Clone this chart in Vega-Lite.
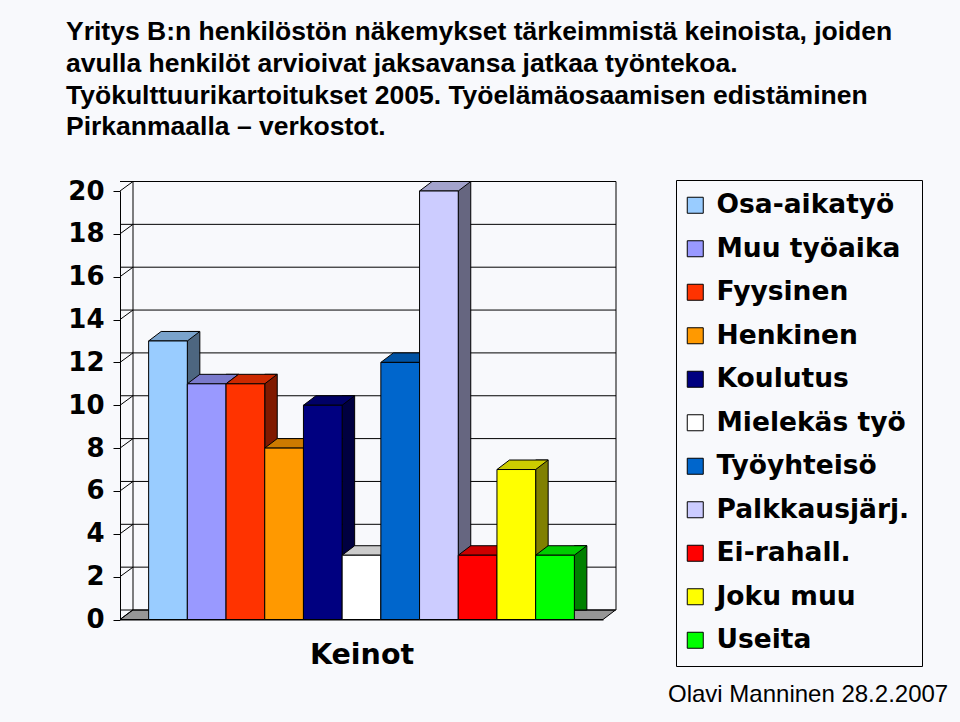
{
  "$schema": "https://vega.github.io/schema/vega-lite/v6.json",
  "width": 483,
  "height": 428.5,
  "autosize": {"type": "none"},
  "padding": {"left": 120, "top": 191, "right": 357, "bottom": 102.5},
  "background": "#f8f9fc",
  "config": {
    "view": {"stroke": null},
    "axisY": {"domainColor": "black", "domainWidth": 1, "tickColor": "black", "tickSize": 7, "tickWidth": 1, "labelFont": "DejaVu Sans", "labelFontSize": 26, "labelFontWeight": "bold", "labelColor": "black", "labelPadding": 9, "grid": false},
    "axisX": {"domainColor": "black", "domainWidth": 1, "ticks": false, "labels": false, "grid": false, "titleFont": "DejaVu Sans", "titleFontSize": 28.5, "titleFontWeight": "bold", "titleColor": "black", "titlePadding": 21}
  },
  "title": {
    "text": ["Yritys B:n henkilöstön näkemykset tärkeimmistä keinoista, joiden", "avulla henkilöt arvioivat jaksavansa jatkaa työntekoa.", "Työkulttuurikartoitukset 2005. Työelämäosaamisen edistäminen", "Pirkanmaalla – verkostot."],
    "anchor": "start",
    "frame": "group",
    "dx": -54,
    "dy": -33,
    "font": "Liberation Sans",
    "fontSize": 26.5,
    "fontWeight": "bold",
    "color": "black",
    "lineHeight": 31.7
  },
  "datasets": {
    "bars": [
      {"keino": "Osa-aikatyö", "value": 13},
      {"keino": "Muu työaika", "value": 11},
      {"keino": "Fyysinen", "value": 11},
      {"keino": "Henkinen", "value": 8},
      {"keino": "Koulutus", "value": 10},
      {"keino": "Mielekäs työ", "value": 3},
      {"keino": "Työyhteisö", "value": 12},
      {"keino": "Palkkausjärj.", "value": 20},
      {"keino": "Ei-rahall.", "value": 3},
      {"keino": "Joku muu", "value": 7},
      {"keino": "Useita", "value": 3}
    ],
    "ticks": [
      {"tick": 0}, {"tick": 2}, {"tick": 4}, {"tick": 6}, {"tick": 8}, {"tick": 10},
      {"tick": 12}, {"tick": 14}, {"tick": 16}, {"tick": 18}, {"tick": 20}
    ],
    "footer": [{"t": "Olavi Manninen 28.2.2007"}]
  },
  "layer": [
    {
      "data": {"name": "bars"},
      "transform": [{"filter": "datum.keino === 'Osa-aikatyö'"}],
      "mark": {"type": "point", "filled": true, "opacity": 1, "shape": "M-0.966,0L0.966,0L1.016,-0.038L-0.916,-0.038Z", "size": 250000, "fill": "#969696", "stroke": "black", "strokeWidth": 1},
      "encoding": {
        "y": {"datum": 0, "type": "quantitative", "title": null}
      }
    },
    {
      "data": {"name": "ticks"},
      "mark": {"type": "rule", "color": "black", "strokeWidth": 1, "xOffset": 13, "x2Offset": 13, "yOffset": -9.5, "y2Offset": -9.5},
      "encoding": {
        "y": {"field": "tick", "type": "quantitative", "title": null, "scale": {"domain": [0, 20], "nice": false}, "axis": {"values": [0, 2, 4, 6, 8, 10, 12, 14, 16, 18, 20], "title": null}}
      }
    },
    {
      "data": {"name": "bars"},
      "transform": [{"filter": "datum.keino === 'Osa-aikatyö'"}],
      "mark": {"type": "point", "filled": false, "opacity": 1, "shape": "M-0.914,-0.895L-0.914,0.819M1.018,-0.895L1.018,0.819", "size": 250000, "stroke": "black", "strokeWidth": 1},
      "encoding": {
        "y": {"datum": 10, "type": "quantitative", "title": null}
      }
    },
    {
      "data": {"name": "ticks"},
      "mark": {"type": "point", "filled": false, "opacity": 1, "shape": "M-0.8125,0.594L0.8125,-0.594", "size": 256, "stroke": "black", "strokeWidth": 1, "xOffset": -235, "yOffset": -4.75},
      "encoding": {
        "y": {"field": "tick", "type": "quantitative", "title": null}
      }
    },
    {
      "data": {"name": "bars"},
      "mark": {"type": "bar", "width": 12.5, "xOffset": 25.6, "yOffset": -9.5, "y2Offset": -9.5, "stroke": "black", "strokeWidth": 1},
      "encoding": {
        "x": {"field": "keino", "type": "nominal", "sort": null, "title": "Keinot", "scale": {"domain": ["Osa-aikatyö", "Muu työaika", "Fyysinen", "Henkinen", "Koulutus", "Mielekäs työ", "Työyhteisö", "Palkkausjärj.", "Ei-rahall.", "Joku muu", "Useita"], "paddingInner": 0, "paddingOuter": 0.74}},
        "y": {"field": "value", "type": "quantitative", "title": null},
        "y2": {"datum": 0},
        "color": {"field": "keino", "type": "nominal", "legend": null, "scale": {"domain": ["Osa-aikatyö", "Muu työaika", "Fyysinen", "Henkinen", "Koulutus", "Mielekäs työ", "Työyhteisö", "Palkkausjärj.", "Ei-rahall.", "Joku muu", "Useita"], "range": ["#4D6680", "#4D4D80", "#801A00", "#804D00", "#000040", "#808080", "#003366", "#666680", "#800000", "#808000", "#008000"]}}
      }
    },
    {
      "data": {"name": "bars"},
      "mark": {"type": "point", "filled": true, "opacity": 1, "shape": "M-0.484,0L0.484,0L0.796,-0.2375L-0.171,-0.2375Z", "size": 6400, "stroke": "black", "strokeWidth": 1},
      "encoding": {
        "x": {"field": "keino", "type": "nominal", "sort": null, "title": "Keinot"},
        "y": {"field": "value", "type": "quantitative", "title": null},
        "color": {"field": "keino", "type": "nominal", "legend": null, "scale": {"domain": ["Osa-aikatyö", "Muu työaika", "Fyysinen", "Henkinen", "Koulutus", "Mielekäs työ", "Työyhteisö", "Palkkausjärj.", "Ei-rahall.", "Joku muu", "Useita"], "range": ["#7AA3CC", "#7A7ACC", "#CC2900", "#CC7A00", "#000066", "#CCCCCC", "#0052A3", "#A3A3CC", "#CC0000", "#CCCC00", "#00CC00"]}}
      }
    },
    {
      "data": {"name": "bars"},
      "mark": {"type": "bar", "stroke": "black", "strokeWidth": 1},
      "encoding": {
        "x": {"field": "keino", "type": "nominal", "sort": null, "title": "Keinot"},
        "y": {"field": "value", "type": "quantitative", "title": null},
        "y2": {"datum": 0},
        "color": {
          "field": "keino", "type": "nominal",
          "scale": {"domain": ["Osa-aikatyö", "Muu työaika", "Fyysinen", "Henkinen", "Koulutus", "Mielekäs työ", "Työyhteisö", "Palkkausjärj.", "Ei-rahall.", "Joku muu", "Useita"], "range": ["#99CCFF", "#9999FF", "#FF3300", "#FF9900", "#000080", "#FFFFFF", "#0066CC", "#CCCCFF", "#FF0000", "#FFFF00", "#00FF00"]},
          "legend": {
            "title": null,
            "orient": "none",
            "legendX": 556,
            "legendY": -11,
            "strokeColor": "black",
            "padding": 12,
            "symbolOffset": -6,
            "symbolType": "square",
            "symbolSize": 256,
            "symbolStrokeColor": "black",
            "symbolStrokeWidth": 1,
            "symbolOpacity": 1,
            "labelFont": "DejaVu Sans",
            "labelFontSize": 26.5,
            "labelFontWeight": "bold",
            "labelColor": "black",
            "labelOffset": 8,
            "rowPadding": 16.5,
            "labelLimit": 400
          }
        }
      }
    },
    {
      "data": {"name": "footer"},
      "mark": {"type": "text", "align": "left", "baseline": "alphabetic", "dx": 306.5, "dy": 296.75, "font": "Liberation Sans", "fontSize": 24, "color": "black"},
      "encoding": {
        "text": {"field": "t"}
      }
    }
  ],
  "resolve": {"scale": {"color": "independent"}}
}
